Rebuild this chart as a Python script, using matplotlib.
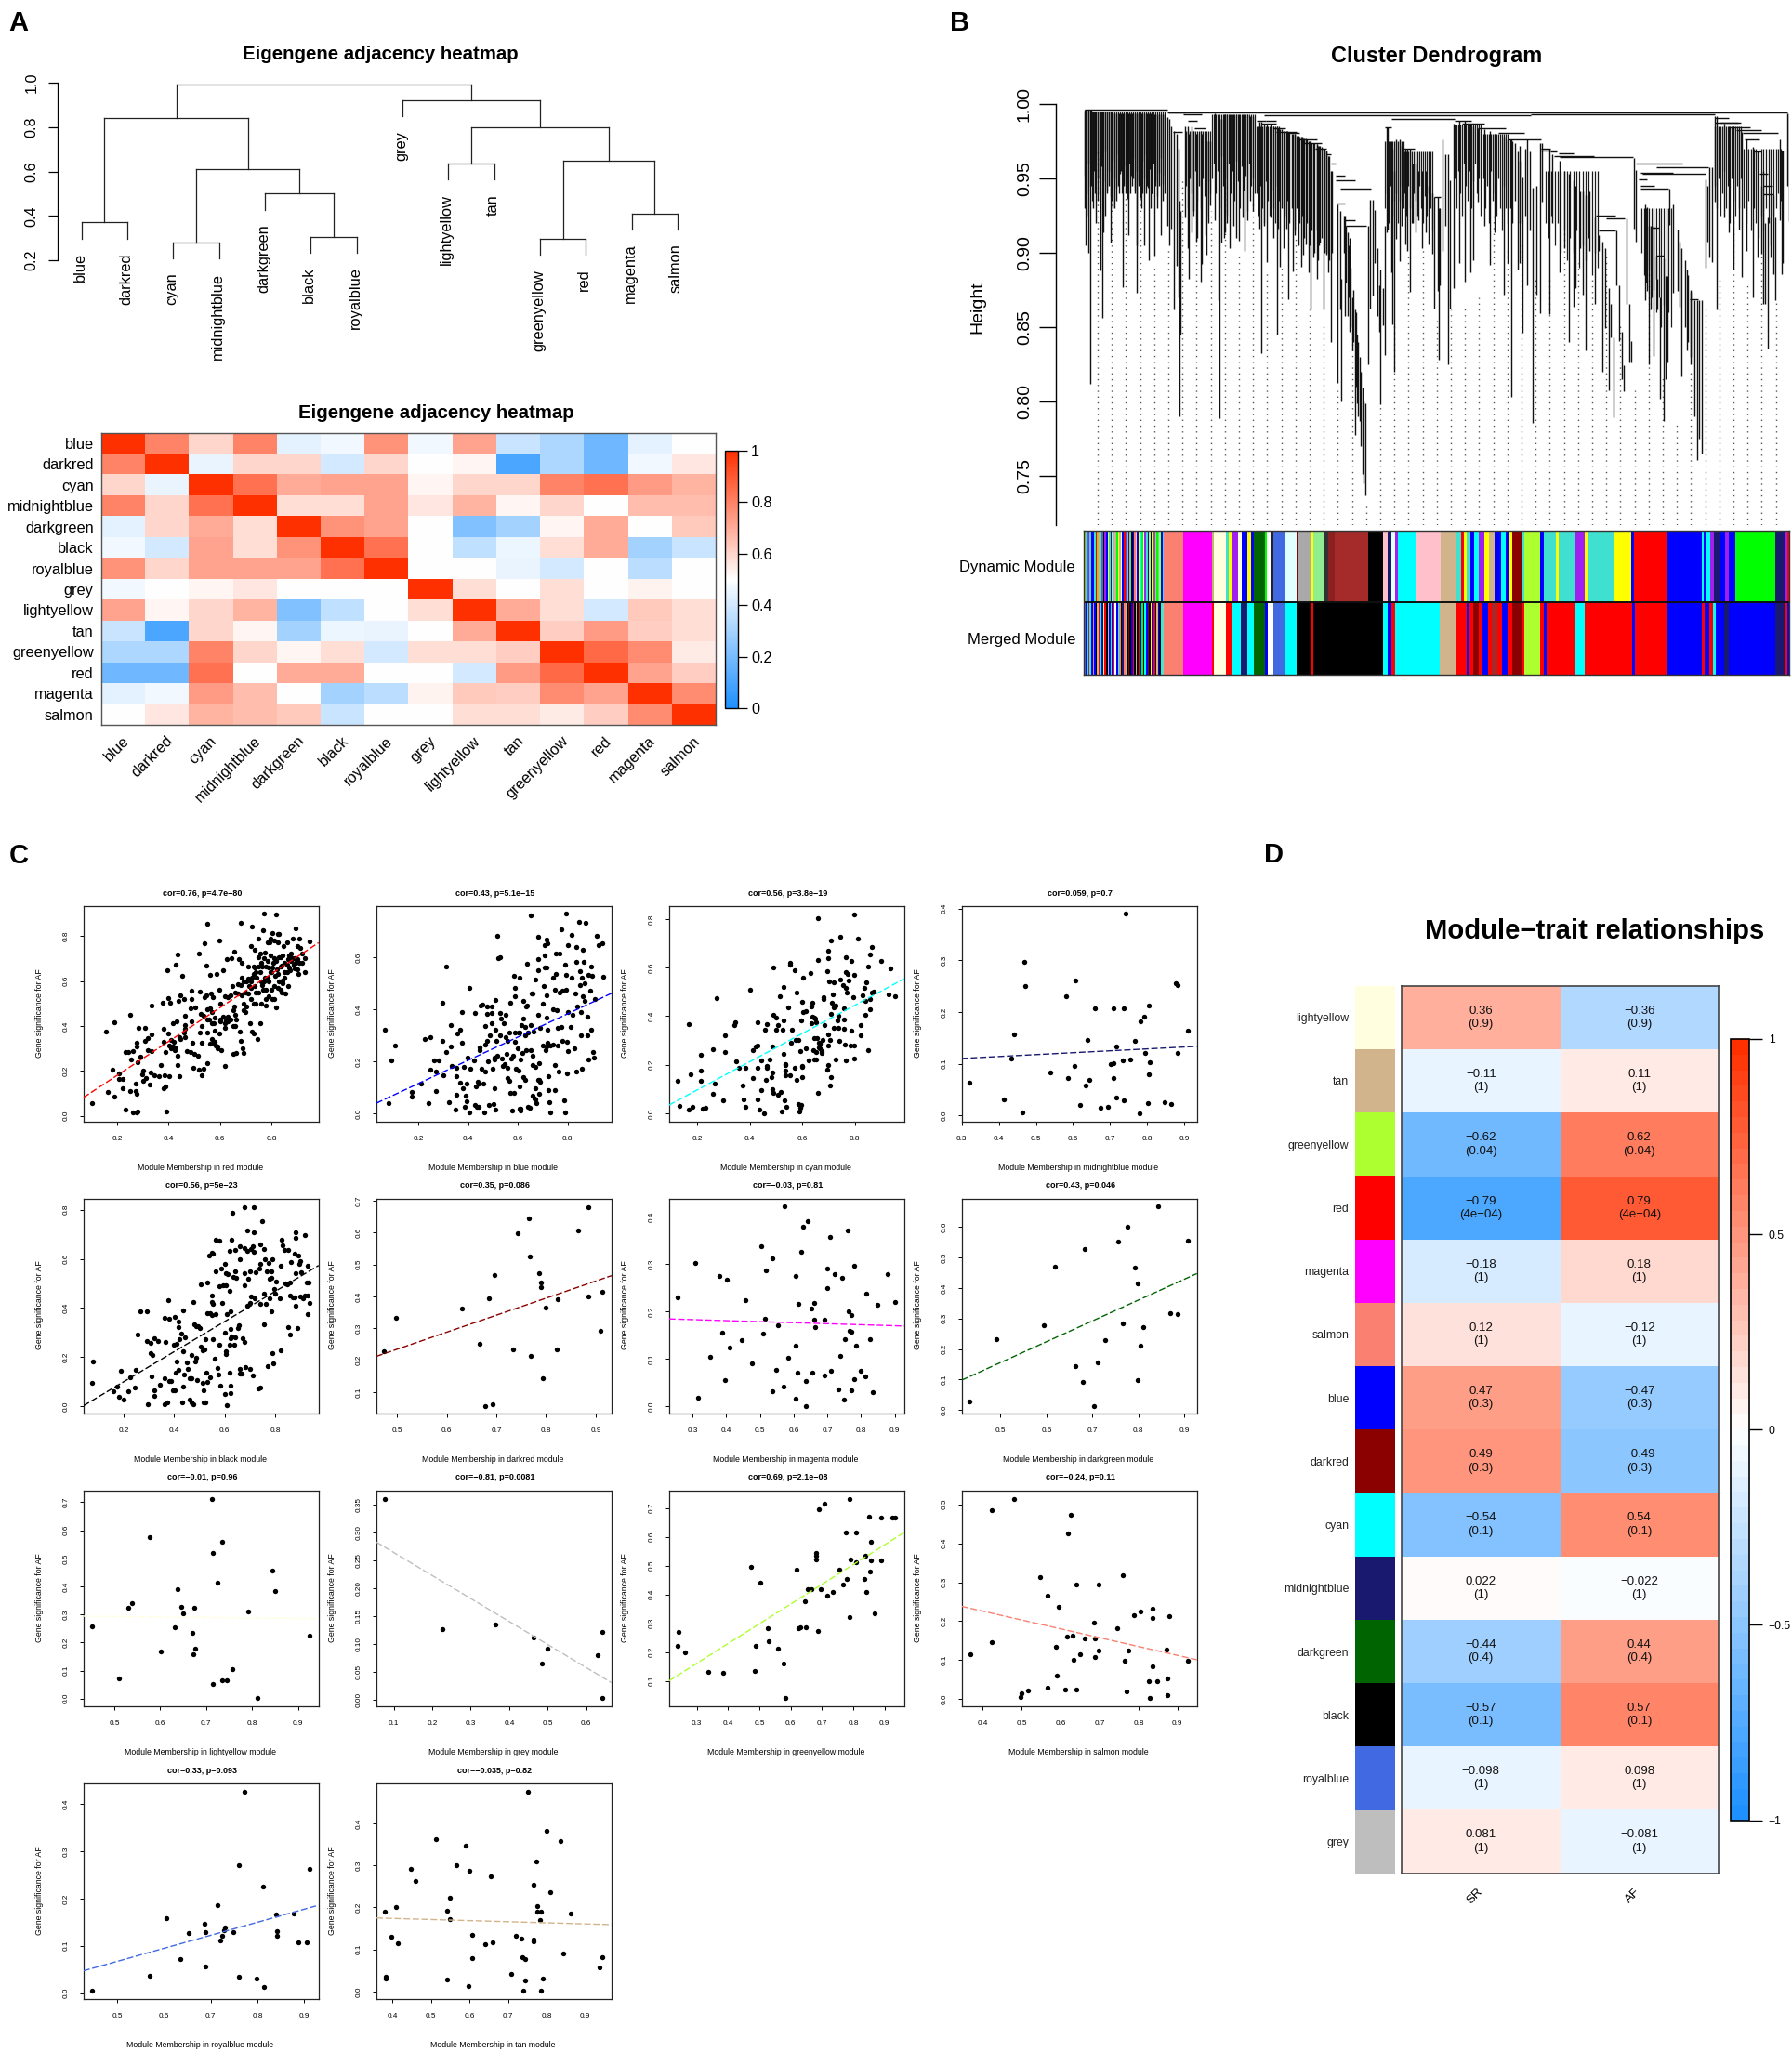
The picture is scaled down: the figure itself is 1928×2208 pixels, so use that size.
import matplotlib
matplotlib.use("Agg")
import matplotlib.pyplot as plt
import numpy as np
from matplotlib.cm import ScalarMappable
from matplotlib.colors import LinearSegmentedColormap, Normalize

plt.rcParams["font.family"] = ["Liberation Sans", "DejaVu Sans"]

WIDTH, HEIGHT = 1928, 2208

# --- panel A data ---
modules = ["blue", "darkred", "cyan", "midnightblue", "darkgreen", "black", "royalblue",
           "grey", "lightyellow", "tan", "greenyellow", "red", "magenta", "salmon"]
# children: negative = leaf -(i + 1), zero or positive = earlier merge row
merge_left = [-1, -3, -6, -5, 1, 0, -9, -11, -13, 7, 6, -8, 5]
merge_right = [-2, -4, -7, 2, 3, 4, -10, -12, -14, 8, 9, 10, 11]
merge_height = [0.37, 0.28, 0.306, 0.50, 0.61, 0.84, 0.635, 0.296, 0.41, 0.65, 0.80, 0.92, 0.99]
leaf_drop = 0.072
dendro_ticks = [0.2, 0.4, 0.6, 0.8, 1.0]

adjacency = [
    [1.00, .80, .60, .80, .44, .47, .76, .47, .72, .38, .32, .18, .44, .50],
    [.80, 1.00, .45, .60, .60, .40, .60, .50, .52, .10, .32, .18, .47, .56],
    [.60, .45, 1.00, .84, .70, .72, .72, .52, .60, .60, .80, .84, .74, .68],
    [.80, .60, .84, 1.00, .58, .58, .72, .56, .68, .52, .60, .50, .66, .66],
    [.44, .60, .70, .58, 1.00, .76, .72, .50, .22, .30, .52, .70, .50, .63],
    [.47, .40, .72, .58, .76, 1.00, .84, .50, .36, .46, .58, .70, .30, .38],
    [.76, .60, .72, .72, .72, .84, 1.00, .50, .50, .45, .40, .50, .35, .50],
    [.47, .50, .52, .56, .50, .50, .50, 1.00, .58, .50, .58, .50, .53, .50],
    [.72, .52, .60, .68, .22, .36, .50, .58, 1.00, .70, .58, .40, .63, .58],
    [.38, .10, .60, .52, .30, .46, .45, .50, .70, 1.00, .62, .74, .62, .58],
    [.32, .32, .80, .60, .52, .58, .40, .58, .58, .62, 1.00, .86, .78, .55],
    [.18, .18, .84, .50, .70, .70, .50, .50, .40, .74, .86, 1.00, .72, .62],
    [.44, .47, .74, .66, .50, .30, .35, .53, .63, .62, .78, .72, 1.00, .78],
    [.50, .56, .68, .66, .63, .38, .50, .50, .58, .58, .55, .62, .78, 1.00],
]

# --- panel B data (gene rank, merge height, lowest height) ---
tree_tips = [
    (2, .996, .930), (6, .996, .905), (10, .996, .925), (14, .996, .900), (20, .996, .812), (25, .996, .945),
    (30, .995, .930), (35, .995, .940), (40, .995, .920), (45, .995, .935), (50, .995, .950), (54, .995, .888),
    (60, .995, .856), (64, .995, .914), (68, .995, .925), (74, .995, .940), (80, .995, .945), (86, .995, .907),
    (90, .995, .935), (94, .994, .930), (100, .994, .930), (105, .994, .935), (110, .994, .945), (115, .994, .940),
    (120, .994, .955), (125, .994, .877), (130, .994, .945), (135, .994, .940), (140, .994, .950), (145, .994, .912),
    (150, .994, .940), (155, .994, .945), (160, .994, .950), (165, .994, .940), (170, .994, .873), (172, .994, .905),
    (178, .994, .945), (185, .994, .930), (190, .994, .940), (194, .994, .905), (200, .994, .940), (205, .994, .945),
    (210, .994, .895), (215, .994, .930), (220, .993, .940), (227, .993, .898), (232, .993, .945), (238, .993, .930),
    (244, .993, .945), (250, .993, .912), (255, .993, .935), (260, .993, .940),
    (270, .991, .918), (277, .990, .905), (282, .985, .916), (292, .982, .862), (300, .980, .891), (307, .970, .870),
    (310, .935, .790), (313, .928, .845),
    (327, .985, .924), (337, .985, .903), (339, .980, .8825), (347, .985, .914), (354, .982, .928), (362, .980, .9075),
    (367, .980, .910), (377, .982, .8805), (382, .980, .8925), (392, .980, .912), (397, .975, .899), (402, .975, .920),
    (407, .975, .932),
    (422, .994, .922), (434, .990, .868), (439, .990, .789), (444, .990, .907), (452, .993, .910), (457, .993, .914),
    (462, .993, .920), (472, .993, .903), (482, .993, .918), (492, .993, .910), (502, .993, .908), (512, .993, .924),
    (519, .993, .901), (527, .993, .922), (537, .992, .935), (547, .992, .928),
    (567, .988, .916), (572, .988, .8325), (582, .987, .918), (590, .987, .894), (602, .986, .924), (612, .985, .910),
    (623, .985, .845), (627, .984, .916), (634, .983, .8908), (645, .982, .903), (654, .982, .916), (661, .981, .869),
    (674, .980, .8875), (682, .980, .912), (692, .979, .905), (702, .978, .8908), (707, .977, .899), (717, .977, .9054),
    (727, .975, .8867), (732, .975, .8617), (742, .974, .897), (752, .973, .8825), (757, .972, .895), (762, .972, .907),
    (774, .970, .8617), (782, .969, .899), (790, .965, .8867), (797, .955, .84),
    (820, .9325, .8127), (827, .928, .8617), (832, .8825, .80), (842, .925, .8575), (852, .9137, .8575), (859, .91, .847),
    (867, .87, .8346), (875, .8617, .7773), (882, .845, .799), (890, .83, .7867), (900, .8096, .7512), (909, .799, .7367),
    (840, .925, .90), (847, .918, .88), (855, .905, .87), (862, .89, .85), (870, .875, .84), (878, .86, .81),
    (886, .84, .79), (894, .82, .77), (903, .80, .745),
    (917, .918, .825), (925, .9356, .8627), (932, .9356, .871), (940, .929, .893), (949, .9033, .8575), (954, .8783, .8471),
    (957, .8887, .798), (967, .876, .8513), (972, .9179, .8315),
    (977, .9846, .9137), (982, .9846, .9158), (992, .975, .8867), (997, .97, .852), (1001, .955, .82), (1009, .976, .9096),
    (1019, .976, .8942), (1027, .972, .918), (1037, .97, .9054), (1045, .97, .9013), (1053, .97, .874), (1062, .96, .92),
    (1072, .96, .9137), (1080, .955, .922), (1092, .955, .9033), (1104, .955, .9137), (1112, .945, .9054), (1124, .94, .8992),
    (1132, .9377, .8627), (1142, .9377, .8742), (1147, .93, .8283), (1150, .93, .8783),
    (1157, .976, .9013), (1167, .966, .9179), (1175, .966, .825), (1182, .949, .8627), (1194, .987, .8763), (1212, .9888, .8929),
    (1230, .9888, .8804), (1247, .987, .8867), (1257, .985, .895), (1272, .984, .9346), (1294, .983, .9179), (1312, .982, .8918),
    (1327, .98, .9137), (1357, .978, .872), (1367, .976, .8929), (1380, .976, .8033), (1400, .968, .8887), (1407, .962, .8929),
    (1415, .951, .846), (1432, .976, .8783), (1448, .944, .7856), (1460, .945, .872), (1474, .974, .8596), (1480, .974, .9346),
    (1376, .976, .93), (1384, .975, .92), (1392, .974, .935), (1408, .972, .92), (1424, .97, .925), (1440, .968, .915),
    (1502, .97, .8585), (1512, .966, .92), (1535, .962, .8867), (1550, .955, .9033), (1565, .953, .8398), (1580, .949, .8638),
    (1587, .945, .8763), (1602, .941, .9033), (1612, .941, .8721), (1620, .939, .8346), (1632, .941, .9013), (1650, .924, .8658),
    (1662, .9117, .9013), (1674, .9075, .82), (1682, .9033, .8492), (1696, .8763, .8075), (1700, .8658, .8429), (1710, .8429, .7894),
    (1718, .9148, .8783), (1727, .8783, .8408), (1738, .8471, .8148), (1744, .8242, .807), (1752, .923, .8658), (1762, .8658, .8263),
    (1767, .8408, .8263),
    (1777, .9637, .916), (1782, .9554, .9075), (1812, .9325, .868), (1819, .9304, .8742), (1824, .9179, .825), (1829, .9179, .8617),
    (1838, .9179, .8304), (1847, .898, .8825), (1852, .8825, .8617), (1859, .87, .802), (1871, .896, .7867), (1877, .8846, .8148),
    (1884, .8846, .8263), (1890, .9429, .919), (1902, .9325, .8731), (1917, .9158, .8742), (1922, .9075, .8638), (1930, .9033, .8169),
    (1940, .895, .85), (1950, .885, .84), (1960, .875, .83), (1970, .868, .79), (1985, .868, .775),
    (1948, .8887, .8346), (1960, .874, .8252), (1979, .8679, .7606), (1995, .8679, .7648), (2006, .9492, .8898), (2012, .945, .9075),
    (2020, .9575, .8971), (2027, .9575, .894),
    (2037, .9919, .9346), (2044, .9919, .8617), (2067, .987, .924), (2082, .985, .9137), (2097, .985, .8887), (2114, .983, .9158),
    (2124, .981, .8835), (2140, .976, .9013), (2160, .971, .87), (2174, .968, .8971), (2187, .945, .8992), (2194, .955, .8658),
    (2200, .92, .8658), (2207, .924, .8356), (2217, .924, .8971), (2227, .939, .8856), (2232, .924, .868), (2247, .976, .9221),
    (2252, .969, .8856), (2257, .969, .8929), (2272, .994, .945), (2276, .994, .921),
    (640, .983, .93), (648, .982, .925), (656, .982, .935), (664, .981, .92), (672, .98, .93), (680, .98, .915), (688, .979, .93),
    (696, .978, .92), (704, .978, .925), (712, .977, .91), (720, .976, .92), (728, .975, .905), (736, .974, .915), (744, .974, .9),
    (752, .973, .915), (760, .972, .905), (768, .971, .91), (776, .97, .9), (784, .968, .9), (792, .965, .895), (800, .955, .9),
]
tree_links = [
    (2, 270, .9965), (270, 2272, .9944), (582, 1442, .9925), (1442, 2037, .9929), (992, 1197, .99),
    (587, 622, .9888), (622, 687, .981), (702, 767, .974), (747, 782, .97), (812, 877, .949), (827, 927, .943),
    (817, 842, .933), (847, 912, .918), (840, 877, .922), (1132, 1152, .9377), (972, 992, .9846), (1032, 1067, .97),
    (287, 317, .9815), (272, 327, .9946), (322, 382, .993), (337, 367, .9888), (357, 392, .9835),
    (1477, 1527, .969), (1517, 1647, .9652), (1537, 1772, .9642), (1652, 1717, .9252), (1687, 1747, .923),
    (1662, 1717, .9148), (1782, 1932, .96), (1847, 2017, .9575), (1797, 1902, .9537), (1802, 2007, .9529),
    (1792, 1817, .9492), (1797, 1842, .945), (1797, 1887, .9429), (1847, 1872, .898), (1957, 1984, .8685),
    (1832, 1857, .9169), (2127, 2242, .9804), (2192, 2227, .9392), (2107, 2187, .9825), (2037, 2122, .9877),
    (557, 587, .9888), (572, 622, .9867), (612, 652, .9835), (662, 697, .9804), (697, 752, .976), (782, 797, .966),
    (797, 812, .96), (812, 842, .952),
    (1197, 1252, .9888), (1222, 1292, .9867), (1272, 1362, .9835), (1337, 1422, .9804), (1372, 1477, .976),
    (1477, 1507, .97), (1507, 1527, .968), (1532, 1582, .9667),
    (2037, 2082, .9908), (2052, 2112, .9877), (2082, 2152, .9846), (2132, 2182, .976), (2162, 2187, .968),
    (2182, 2207, .9533), (2192, 2222, .945),
]
# unresolved branches packed side by side: first rank, rank step, merge height, lowest heights
mass_starts = [2, 330, 415, 558, 972, 1036, 1197, 1290, 2037, 2130, 1490, 1800]
mass_steps = [6, 6, 6, 6, 6, 6, 6, 6, 6, 8, 10, 8]
mass_tops = [.995, .982, .993, .985, .975, .968, .986, .98, .985, .97, .955, .93]
mass_lows = [
    [.952, .94, .96, .945, .935, .955, .965, .95, .94, .958, .948, .968, .942, .955, .938, .962, .95, .944, .966, .953, .94, .958,
     .947, .936, .96, .952, .964, .942, .955, .948, .937, .962, .95, .966, .944, .956, .94, .96, .948, .938, .954, .964, .946, .952],
    [.945, .93, .95, .94, .925, .955, .935, .945, .93, .95, .938, .925, .948, .94],
    [.95, .96, .94, .955, .93, .965, .945, .95, .925, .96, .94, .955, .935, .962, .948, .93, .958, .942, .952, .928, .96, .945, .95, .94],
    [.94, .925, .945, .93, .92, .948, .935, .925, .942, .93, .92, .945, .935],
    [.93, .94, .92, .945, .925, .935, .94, .92, .935, .945, .93],
    [.94, .925, .945, .93, .92, .94, .935, .925, .945, .93, .92, .938, .925, .94, .93, .915],
    [.95, .93, .955, .94, .925, .96, .945, .935, .955, .93, .948, .96, .94, .95, .925],
    [.95, .93, .945, .92, .955, .935, .94, .925, .95, .93, .915, .945, .93, .92],
    [.945, .93, .95, .925, .94, .955, .93, .945, .92, .95, .935, .925, .945, .93, .95],
    [.93, .92, .935, .915, .93, .92, .91, .925, .915, .93, .92, .905, .925, .93, .94, .935],
    [.92, .91, .925, .905, .92, .9, .915, .895, .91, .9, .915, .89, .905, .895, .91, .885, .9, .89],
    [.9, .885, .88, .89, .87, .875, .86, .87, .85, .865, .84, .86, .85],
]
guide_tops = [.97, .9367, .9367, .972, .891, .903, .949, .9096, .928, .945, .899, .9346, .8867,
              .891, .9096, .862, .851, .8075, .847, .73, .799, .851, .899, .903, .8575,
              .8617, .8638, .87, .927, .903, .9054, .8846, .8825, .9137, .893, .8825, .899,
              .8533, .8075, .891, .8158, .7867, .82, .8617, .8825, .924, .8804, .899, .8679, .8617, .92]
height_ticks = [0.75, 0.80, 0.85, 0.90, 0.95, 1.00]

left_dyn_stripes = ["yellowgreen", "turquoise", "slateblue", "purple", "turquoise", "blue", "blue", "turquoise", "red",
                    "yellowgreen", "tan", "turquoise", "slateblue", "black", "purple", "blue", "yellow", "turquoise",
                    "midnightblue", "pink", "turquoise", "tan", "green", "yellow", "tan", "lightcyan", "blue", "red",
                    "purple", "turquoise", "darkred", "turquoise", "black", "blue", "salmon", "pink", "blue", "yellow",
                    "cyan", "green", "lightyellow", "purple", "turquoise", "blue", "greenyellow", "black", "yellow",
                    "slateblue", "tan", "green", "turquoise", "greenyellow", "blue", "turquoise"]
left_mrg_stripes = ["slateblue", "blue", "turquoise", "red", "cyan", "blue", "salmon", "blue", "black", "tan", "red",
                    "cyan", "blue", "yellow", "red", "black", "tan", "blue", "cyan", "blue", "red", "white", "blue",
                    "cyan", "salmon", "black", "midnightblue", "salmon", "tan", "black", "darkred", "black", "blue",
                    "red", "black", "tan", "black", "red", "blue", "green", "black", "cyan", "blue", "darkred", "black",
                    "yellow", "blue", "red", "black", "tan", "blue", "black", "cyan", "tan"]
dyn_stripe_band = (12, 188)
dyn_starts = [188, 230, 293, 298, 325, 331, 337, 352, 360, 372, 380, 386, 410, 415, 423, 429, 453, 479, 485, 512, 517,
              541, 550, 564, 637, 669, 680, 688, 697, 703, 743, 796, 829, 841, 847, 853, 862, 870, 880, 892, 902, 915,
              930, 940, 948, 955, 975, 980, 1016, 1024, 1034, 1050, 1056, 1064, 1094, 1114, 1122, 1135, 1177, 1216,
              1222, 1230, 1293, 1370, 1376, 1382, 1390, 1398, 1412, 1422, 1430, 1444, 1453, 1532, 1552, 1558]
dyn_colors = ["salmon", "magenta", "darkkhaki", "lightyellow", "turquoise", "yellow", "purple", "lightyellow", "blue",
              "yellow", "blue", "darkgreen", "green", "white", "#222222", "royalblue", "lightcyan", "darkred", "darkgrey",
              "yellow", "lightgreen", "#333333", "#8b2020", "brown", "black", "pink", "midnightblue", "lightcyan",
              "purple", "cyan", "pink", "tan", "turquoise", "red", "yellow", "turquoise", "blue", "cyan", "purple",
              "yellow", "tan", "blue", "cyan", "blue", "yellow", "darkred", "turquoise", "greenyellow", "blue", "turquoise",
              "turquoise", "yellow", "turquoise", "turquoise", "purple", "yellow", "turquoise", "turquoise", "yellow", "blue",
              "red", "red", "blue", "cyan", "blue", "cyan", "purple", "midnightblue", "blue", "purple", "blue", "green",
              "green", "midnightblue", "purple", "red"]
mrg_starts = [188, 230, 293, 298, 325, 337, 357, 372, 385, 410, 416, 429, 453, 479, 512, 517, 669, 680, 688, 697, 795,
              829, 853, 860, 868, 880, 888, 900, 910, 922, 932, 944, 955, 975, 980, 1016, 1024, 1030, 1037, 1094, 1114,
              1217, 1224, 1230, 1293, 1370, 1378, 1388, 1395, 1401, 1420, 1430, 1532, 1552, 1558]
mrg_colors = ["salmon", "magenta", "red", "lightyellow", "red", "cyan", "midnightblue", "cyan", "darkgreen", "blue",
              "white", "royalblue", "cyan", "black", "red", "black", "cyan", "blue", "red", "cyan", "tan", "red", "blue",
              "red", "darkred", "red", "blue", "red", "brown", "red", "blue", "red", "darkred", "red", "greenyellow",
              "red", "blue", "red", "red", "cyan", "red", "blue", "red", "red", "blue", "red", "blue", "red", "cyan",
              "blue", "midnightblue", "blue", "midnightblue", "red", "blue"]

# --- panel C data ---
red_points = [
    (.103, .056), (.154, .373), (.164, .106), (.18, .204), (.189, .086), (.19, .417), (.206, .187), (.208, .162), (.22, .162), (.22, .122),
    (.233, .027), (.233, .285), (.242, .284), (.25, .449), (.25, .11), (.253, .251), (.261, .287), (.261, .014), (.271, .11), (.272, .145),
    (.274, .096), (.274, .014), (.28, .019), (.274, .309), (.275, .326), (.277, .238), (.283, .39), (.288, .263), (.296, .186), (.3, .199),
    (.3, .157), (.308, .39), (.308, .334), (.312, .169), (.319, .292), (.319, .346), (.329, .194), (.332, .491), (.333, .363), (.332, .289),
    (.327, .14), (.343, .182), (.363, .174), (.371, .224), (.376, .501), (.379, .123), (.387, .132), (.39, .019), (.379, .331), (.379, .385),
    (.387, .284), (.384, .182), (.395, .646), (.399, .525), (.403, .174), (.406, .503), (.399, .368), (.403, .312), (.41, .339), (.415, .309),
    (.418, .41), (.422, .304), (.425, .292), (.428, .672), (.434, .717), (.434, .267), (.434, .224), (.431, .419), (.439, .511), (.445, .537),
    (.442, .174), (.453, .624), (.447, .343), (.458, .52), (.462, .444), (.462, .402), (.465, .385), (.465, .351), (.472, .289), (.484, .284),
    (.489, .557), (.489, .52), (.484, .478), (.494, .326), (.497, .213), (.5, .275), (.505, .481), (.513, .267), (.516, .204), (.517, .722),
    (.52, .554), (.525, .452), (.528, .326), (.528, .182), (.536, .444), (.536, .208), (.541, .768), (.541, .528), (.547, .668), (.547, .537),
    (.552, .854), (.552, .474), (.552, .233), (.56, .478), (.556, .427), (.56, .626), (.563, .545), (.568, .343), (.572, .528), (.575, .41),
    (.575, .326), (.58, .435), (.583, .314), (.588, .633), (.591, .309), (.596, .781), (.599, .562), (.599, .368), (.604, .292), (.612, .646),
    (.619, .221), (.622, .424), (.626, .697), (.63, .528), (.63, .419), (.638, .427), (.641, .537), (.644, .7), (.649, .576), (.651, .275),
    (.654, .486), (.657, .731), (.662, .28), (.662, .427), (.67, .587), (.672, .697), (.677, .376), (.681, .334), (.682, .857), (.685, .68),
    (.685, .537), (.689, .3), (.69, .28), (.693, .596), (.701, .486), (.709, .545), (.714, .579), (.717, .41), (.72, .756), (.723, .84),
    (.725, .376), (.73, .368), (.73, .663), (.732, .63), (.736, .739), (.736, .579), (.741, .613), (.745, .343), (.748, .79), (.751, .663),
    (.756, .41), (.756, .722), (.764, .663), (.767, .824), (.769, .562), (.772, .9), (.775, .613), (.776, .727), (.78, .52), (.78, .663),
    (.784, .773), (.787, .613), (.792, .773), (.795, .638), (.798, .79), (.802, .815), (.803, .52), (.808, .68), (.811, .781), (.816, .621),
    (.819, .896), (.819, .481), (.824, .807), (.827, .773), (.83, .807), (.83, .705), (.835, .562), (.838, .663), (.842, .714), (.846, .756),
    (.849, .638), (.852, .613), (.855, .545), (.861, .77), (.864, .697), (.867, .579), (.87, .714), (.874, .646), (.877, .722), (.882, .79),
    (.886, .672), (.889, .655), (.896, .832), (.9, .756), (.902, .697), (.905, .63), (.91, .79), (.913, .748), (.918, .68), (.92, .722),
    (.929, .641), (.948, .776), (.748, .705), (.761, .596), (.795, .714), (.819, .689), (.838, .705), (.861, .672), (.877, .689), (.827, .63),
    (.842, .604), (.811, .579), (.78, .562), (.725, .613), (.709, .663), (.685, .613), (.701, .596), (.67, .545), (.55, .43), (.57, .41),
    (.6, .43), (.62, .41), (.64, .43), (.66, .40), (.58, .33), (.56, .32), (.59, .30), (.61, .44), (.65, .47), (.69, .50), (.72, .52),
    (.75, .55), (.74, .50), (.77, .60), (.79, .66), (.81, .70), (.85, .68), (.87, .66), (.89, .70), (.91, .68), (.93, .70), (.79, .53),
    (.83, .60), (.8, .64), (.76, .68), (.74, .64), (.71, .61), (.68, .58), (.66, .55), (.62, .53), (.6, .50), (.57, .46), (.53, .40),
    (.72, .6), (.735, .66), (.755, .64), (.77, .7), (.785, .69), (.805, .66), (.82, .65), (.84, .67), (.86, .64), (.88, .7),
    (.895, .68), (.9, .65), (.845, .59), (.825, .57), (.8, .56), (.79, .6), (.765, .58), (.74, .55), (.72, .57), (.7, .55),
    (.69, .47), (.66, .45), (.63, .44), (.6, .42), (.58, .38), (.55, .37), (.52, .37), (.49, .42), (.46, .37), (.44, .35),
    (.42, .33), (.41, .3), (.7, .46), (.73, .5), (.76, .5), (.78, .49), (.81, .52), (.84, .55), (.65, .4), (.62, .39),
]
blue_points = [
    (.063, .32), (.08, .038), (.091, .202), (.104, .261), (.174, .083), (.174, .063), (.211, .114), (.226, .287), (.241, .039), (.247, .166),
    (.247, .294), (.262, .204), (.27, .16), (.27, .084), (.283, .204), (.296, .28), (.296, .424), (.301, .146), (.311, .236), (.311, .566),
    (.322, .042), (.33, .341), (.33, .258), (.333, .181), (.35, .013), (.351, .141), (.351, .071), (.351, .176), (.356, .306), (.366, .322),
    (.366, .119), (.374, .389), (.376, .272), (.377, .098), (.382, .178), (.385, .025), (.39, .066), (.394, .047), (.395, .114), (.398, .213),
    (.406, .481), (.406, .004), (.423, .202), (.426, .386), (.428, .033), (.431, .105), (.434, .025), (.442, .115), (.444, .025), (.446, .243),
    (.446, .252), (.45, .415), (.457, .418), (.455, .173), (.462, .115), (.467, .336), (.468, .159), (.465, .004), (.47, .265), (.475, .278),
    (.476, .411), (.476, .382), (.485, .033), (.489, .301), (.496, .345), (.496, .386), (.496, .411), (.503, .035), (.504, .207), (.506, .214),
    (.507, .095), (.509, .435), (.509, .322), (.517, .684), (.511, .015), (.515, .28), (.517, .221), (.52, .596), (.527, .6), (.528, .386),
    (.532, .363), (.537, .211), (.54, .182), (.545, .348), (.548, .189), (.55, .294), (.552, .379), (.555, .229), (.558, .176), (.559, .134),
    (.564, .31), (.566, .124), (.569, .077), (.571, .424), (.572, .211), (.576, .01), (.585, .079), (.585, .529), (.589, .483), (.589, .31),
    (.589, .451), (.589, .275), (.593, .17), (.602, .309), (.603, .163), (.607, .523), (.605, .102), (.605, .016), (.608, .309), (.609, .01),
    (.611, .208), (.611, .019), (.616, .338), (.618, .233), (.621, .432), (.621, .363), (.628, .331), (.63, .127), (.634, .411), (.637, .575),
    (.634, .243), (.637, .415), (.639, .025), (.642, .309), (.647, .022), (.652, .76), (.652, .243), (.655, .462), (.659, .462), (.659, .068),
    (.659, .185), (.663, .316), (.667, .057), (.672, .054), (.672, .513), (.672, .098), (.675, .039), (.68, .377), (.683, .13), (.683, .68),
    (.683, .549), (.683, .593), (.685, .192), (.686, .127), (.686, .076), (.688, .328), (.704, .488), (.706, .648), (.707, .607), (.707, .561),
    (.715, .668), (.72, .654), (.714, .561), (.717, .454), (.714, .367), (.71, .243), (.717, .258), (.724, .141), (.724, .09), (.727, .042),
    (.729, .003), (.72, .272), (.732, .261), (.74, .265), (.748, .09), (.748, .185), (.753, .615), (.751, .537), (.748, .476), (.756, .396),
    (.764, .159), (.761, .261), (.769, .615), (.769, .465), (.776, .709), (.776, .331), (.787, .05), (.789, .004), (.789, .571), (.792, .534),
    (.794, .767), (.795, .476), (.797, .275), (.797, .153), (.8, .648), (.813, .333), (.815, .687), (.818, .52), (.828, .25), (.832, .462),
    (.836, .639), (.836, .581), (.834, .159), (.846, .738), (.849, .546), (.849, .494), (.854, .301), (.854, .389), (.857, .52), (.862, .629),
    (.859, .17), (.863, .581), (.87, .432), (.873, .731), (.88, .301), (.88, .371), (.883, .534), (.883, .207), (.894, .566), (.896, .323),
    (.902, .236), (.906, .214), (.911, .44), (.919, .684), (.924, .648), (.94, .654), (.943, .526),
    (.6, .25), (.63, .3), (.65, .34), (.67, .18), (.69, .12), (.7, .26), (.72, .32), (.74, .4), (.76, .33), (.78, .28),
    (.8, .24), (.82, .38), (.84, .41), (.86, .45), (.87, .5), (.89, .47), (.9, .53), (.78, .47), (.8, .39), (.74, .52),
    (.7, .42), (.66, .22), (.62, .14), (.58, .22), (.56, .28), (.53, .3), (.5, .17), (.48, .2), (.44, .12), (.41, .17),
]
cyan_points = [
    (.125, .134), (.131, .03), (.167, .017), (.166, .367), (.176, .162), (.182, .027), (.212, .24), (.215, .134), (.215, .176), (.222, .019),
    (.233, .023), (.26, .264), (.26, .08), (.267, .122), (.272, .474), (.299, .053), (.304, .32), (.304, .251), (.342, .363), (.343, .373),
    (.348, .215), (.357, .189), (.373, .114), (.378, .059), (.382, .189), (.384, .025), (.401, .509), (.412, .145), (.412, .26), (.421, .276),
    (.428, .058), (.43, .187), (.431, .281), (.43, .374), (.437, .014), (.442, .094), (.443, .217), (.454, 0), (.458, .345), (.464, .368),
    (.461, .137), (.464, .187), (.466, .195), (.475, .222), (.481, .15), (.485, .101), (.487, .167), (.487, .275), (.489, .083), (.488, .599),
    (.491, .406), (.5, .393), (.501, .345), (.506, .075), (.509, .362), (.515, .482), (.519, .089), (.521, .008), (.524, .345), (.527, .521),
    (.527, .382), (.528, .245), (.533, .055), (.534, .198), (.536, .203), (.536, .176), (.536, .158), (.54, .025), (.546, .437), (.552, .618),
    (.552, .612), (.552, .158), (.557, .292), (.56, .345), (.572, .187), (.572, .59), (.576, .301), (.578, .498), (.579, .137), (.584, .303),
    (.584, .039), (.587, .006), (.591, .257), (.594, .023), (.597, .034), (.597, .382), (.603, .557), (.598, .459), (.601, .195), (.601, .192),
    (.6, .148), (.603, .417), (.612, .421), (.613, .267), (.625, .217), (.63, .577), (.633, .438), (.637, .456), (.633, .37), (.64, .396),
    (.645, .395), (.649, .392), (.646, .31), (.642, .26), (.644, .222), (.652, .223), (.654, .254), (.657, .31), (.652, .373), (.66, .083),
    (.661, .633), (.66, .802), (.664, .292), (.664, .273), (.668, .287), (.667, .268), (.672, .256), (.673, .25), (.678, .304), (.682, .477),
    (.682, .47), (.686, .365), (.694, .585), (.694, .178), (.697, .198), (.7, .638), (.7, .668), (.7, .325), (.7, .281), (.702, .544),
    (.704, .301), (.706, .114), (.709, .15), (.709, .711), (.709, .409), (.713, .454), (.716, .491), (.719, .538), (.721, .351), (.719, .435),
    (.727, .443), (.727, .22), (.734, .382), (.736, .353), (.739, .401), (.742, .298), (.743, .727), (.743, .551), (.754, .529), (.757, .432),
    (.757, .388), (.757, .349), (.764, .218), (.766, .644), (.764, .583), (.763, .284), (.767, .515), (.769, .499), (.772, .574), (.778, .546),
    (.782, .279), (.787, .629), (.788, .342), (.793, .477), (.796, .819), (.796, .571), (.799, .279), (.799, .225), (.813, .719), (.821, .364),
    (.824, .32), (.831, .485), (.836, .515), (.84, .462), (.84, .406), (.843, .541), (.852, .604), (.852, .26), (.857, .429), (.857, .47),
    (.857, .655), (.866, .683), (.866, .499), (.873, .501), (.9, .626), (.927, .49), (.937, .597), (.954, .482),
]
midnightblue_points = [
    (.322, .064), (.413, .032), (.434, .111), (.442, .158), (.464, .007), (.469, .297), (.47, .25), (.538, .084), (.582, .231), (.587, .072),
    (.603, .096), (.606, .261), (.62, .021), (.633, .059), (.64, .147), (.645, .07), (.658, .208), (.675, .015), (.694, .017), (.702, .10),
    (.708, .101), (.708, .073), (.709, .207), (.716, .133), (.716, .035), (.734, .106), (.736, .208), (.738, .03), (.743, .39), (.754, .109),
    (.768, .144), (.779, .004), (.783, .183), (.793, .192), (.794, .121), (.803, .025), (.805, .212), (.805, .08), (.807, .103), (.847, .026),
    (.864, .022), (.877, .256), (.881, .253), (.881, .122), (.909, .164),
]
black_points = [
    (.075, .094), (.078, .182), (.158, .06), (.174, .079), (.181, .037), (.189, .144), (.2, .025), (.216, .062), (.224, .116), (.245, .076),
    (.248, .147), (.253, .29), (.267, .388), (.293, .386), (.291, .267), (.296, .006), (.306, .258), (.306, .215), (.314, .21), (.31, .12),
    (.32, .278), (.322, .063), (.322, .042), (.336, .267), (.342, .088), (.36, .113), (.365, .261), (.36, .008), (.363, .36), (.374, .014),
    (.378, .431), (.381, .357), (.379, .103), (.389, .102), (.395, .065), (.402, .065), (.402, .363), (.406, .137), (.41, .255), (.41, .181),
    (.418, .344), (.416, .147), (.421, .272), (.418, .323), (.429, .295), (.434, .39), (.43, .014), (.435, .222), (.442, .281), (.437, .079),
    (.45, .179), (.454, .151), (.461, .113), (.469, .113), (.461, .026), (.469, .014), (.477, .009), (.475, .426), (.478, .335), (.486, .324),
    (.488, .196), (.485, .182), (.49, .107), (.494, .324), (.502, .32), (.504, .497), (.512, .094), (.507, .242), (.512, .229), (.517, .017),
    (.523, .014), (.518, .065), (.522, .272), (.526, .137), (.533, .503), (.531, .1), (.533, .38), (.541, .38), (.544, .117), (.539, .615),
    (.549, .625), (.554, .621), (.549, .451), (.549, .423), (.554, .415), (.554, .272), (.56, .193), (.563, .55), (.566, .676), (.566, .375),
    (.57, .156), (.574, .128), (.578, .673), (.582, .082), (.586, .559), (.592, .42), (.594, .491), (.6, .051), (.605, .491), (.605, .542),
    (.606, .213), (.606, .222), (.608, .374), (.613, .539), (.608, .002), (.618, .136), (.621, .632), (.622, .082), (.626, .678), (.624, .052),
    (.624, .385), (.624, .314), (.624, .276), (.627, .284), (.634, .527), (.632, .788), (.637, .249), (.643, .638), (.645, .524), (.653, .32),
    (.656, .33), (.661, .65), (.659, .131), (.669, .134), (.67, .276), (.677, .644), (.677, .812), (.682, .158), (.68, .493), (.688, .408),
    (.691, .632), (.69, .717), (.693, .52), (.701, .15), (.704, .446), (.706, .639), (.714, .811), (.714, .629), (.712, .65), (.717, .709),
    (.712, .125), (.723, .547), (.733, .071), (.738, .562), (.741, .076), (.742, .658), (.75, .754), (.757, .639), (.757, .459), (.741, .415),
    (.757, .334), (.762, .415), (.768, .55), (.771, .161), (.773, .585), (.778, .52), (.784, .55), (.784, .524), (.784, .385), (.792, .174),
    (.79, .6), (.805, .508), (.797, .477), (.79, .215), (.821, .57), (.826, .678), (.829, .655), (.837, .636), (.853, .638), (.85, .497),
    (.851, .323), (.858, .292), (.824, .227), (.861, .503), (.864, .588), (.869, .442), (.882, .707), (.882, .684), (.877, .622), (.878, .443),
    (.88, .409), (.888, .32), (.894, .613), (.896, .578), (.9, .446), (.904, .544), (.912, .44), (.92, .698), (.925, .503), (.93, .452),
    (.933, .503), (.93, .57), (.928, .375), (.936, .42),
    (.58, .25), (.6, .3), (.62, .25), (.64, .28), (.66, .15), (.68, .26), (.7, .42), (.72, .44), (.74, .58), (.76, .6),
    (.78, .44), (.8, .46), (.82, .44), (.84, .5), (.86, .45), (.88, .54), (.9, .59), (.92, .45), (.7, .55), (.68, .54),
    (.66, .6), (.64, .55), (.62, .47), (.6, .58), (.58, .49), (.55, .37), (.52, .23), (.47, .21), (.44, .13), (.4, .25),
]
darkred_points = [
    (.498, .332), (.474, .228), (.63, .363), (.667, .252), (.677, .057), (.692, .062), (.685, .393), (.696, .467), (.733, .233), (.743, .599),
    (.766, .644), (.768, .524), (.77, .213), (.786, .474), (.789, .443), (.79, .428), (.794, .144), (.799, .364), (.822, .235), (.823, .392),
    (.864, .606), (.886, .681), (.885, .40), (.909, .291), (.914, .415),
]
magenta_points = [
    (.256, .23), (.308, .302), (.316, .017), (.351, .103), (.38, .275), (.387, .155), (.397, .055), (.401, .266), (.41, .123), (.447, .14),
    (.458, .223), (.477, .09), (.503, .338), (.51, .153), (.515, .185), (.517, .286), (.536, .032), (.536, .311), (.547, .077), (.552, .17),
    (.571, .042), (.572, .421), (.585, .102), (.605, .127), (.606, .016), (.606, .274), (.61, .07), (.615, .216), (.621, .326), (.628, .379),
    (.637, .053), (.642, .391), (.652, .206), (.655, .07), (.662, .218), (.662, .183), (.664, .167), (.635, .001), (.69, .182), (.692, .064),
    (.699, .249), (.699, .29), (.708, .356), (.71, .074), (.723, .278), (.733, .036), (.737, .105), (.744, .27), (.748, .013), (.751, .142),
    (.759, .37), (.763, .2), (.765, .158), (.77, .193), (.77, .034), (.771, .156), (.78, .296), (.78, .057), (.784, .128), (.8, .074),
    (.813, .063), (.815, .238), (.826, .142), (.835, .03), (.848, .214), (.88, .279), (.9, .219),
]
darkgreen_points = [
    (.433, .029), (.491, .232), (.595, .277), (.619, .471), (.662, .143), (.679, .093), (.684, .528), (.704, .014), (.712, .155), (.727, .23),
    (.755, .553), (.765, .283), (.777, .599), (.793, .468), (.799, .416), (.799, .098), (.805, .21), (.81, .272), (.842, .666), (.868, .316),
    (.885, .313), (.908, .554),
]
lightyellow_points = [
    (.452, .256), (.511, .072), (.531, .324), (.539, .34), (.578, .576), (.601, .167), (.632, .253), (.637, .39), (.646, .328), (.65, .304),
    (.671, .234), (.672, .157), (.675, .323), (.676, .178), (.713, .711), (.715, .52), (.715, .053), (.724, .413), (.734, .064), (.735, .558),
    (.746, .067), (.758, .104), (.792, .312), (.811, .001), (.845, .456), (.851, .384), (.925, .224),
]
grey_points = [(.076, .36), (.227, .127), (.364, .134), (.463, .112), (.484, .065), (.5, .091), (.63, .079), (.643, .121), (.643, .002)]
greenyellow_points = [
    (.239, .222), (.241, .27), (.261, .198), (.335, .13), (.383, .128), (.472, .495), (.484, .135), (.489, .22), (.502, .44), (.527, .284),
    (.529, .238), (.559, .212), (.576, .161), (.582, .041), (.618, .487), (.625, .284), (.632, .287), (.65, .287), (.646, .376), (.655, .417),
    (.666, .417), (.68, .543), (.68, .535), (.68, .52), (.687, .273), (.691, .696), (.697, .419), (.707, .716), (.716, .396), (.734, .409),
    (.756, .485), (.767, .433), (.775, .616), (.78, .453), (.789, .731), (.79, .522), (.789, .322), (.809, .511), (.81, .616), (.836, .452),
    (.84, .535), (.841, .41), (.851, .67), (.856, .581), (.856, .519), (.855, .48), (.868, .334), (.89, .668), (.89, .518), (.924, .665),
    (.933, .668),
]
salmon_points = [
    (.367, .116), (.423, .485), (.423, .147), (.48, .514), (.498, .006), (.5, .014), (.516, .021), (.546, .314), (.567, .265), (.567, .03),
    (.588, .134), (.59, .06), (.594, .236), (.611, .025), (.616, .16), (.619, .426), (.625, .474), (.63, .163), (.634, .1), (.639, .025),
    (.641, .295), (.649, .114), (.661, .156), (.685, .197), (.687, .107), (.689, .155), (.697, .293), (.697, .124), (.745, .183), (.759, .318),
    (.764, .099), (.769, .02), (.774, .125), (.789, .216), (.806, .225), (.827, .046), (.828, .003), (.835, .231), (.835, .207), (.835, .085),
    (.847, .045), (.873, .126), (.875, .053), (.875, .011), (.879, .214), (.927, .098),
]
royalblue_points = [
    (.446, .004), (.569, .037), (.604, .159), (.635, .071), (.653, .127), (.686, .147), (.688, .129), (.689, .057), (.714, .187), (.72, .112),
    (.725, .122), (.728, .133), (.73, .139), (.749, .128), (.76, .035), (.761, .27), (.772, .427), (.799, .031), (.811, .225), (.814, .013),
    (.839, .167), (.841, .13), (.842, .121), (.878, .169), (.887, .107), (.906, .108), (.912, .263),
]
tan_points = [
    (.38, .189), (.384, .035), (.384, .03), (.398, .131), (.409, .201), (.414, .115), (.447, .291), (.459, .263), (.514, .363), (.542, .028),
    (.543, .193), (.549, .224), (.549, .173), (.565, .3), (.589, .346), (.598, .013), (.6, .288), (.606, .135), (.606, .079), (.64, .113),
    (.656, .273), (.659, .117), (.708, .042), (.721, .132), (.735, .126), (.738, .081), (.739, .003), (.745, .077), (.743, .027), (.751, .476),
    (.766, .254), (.767, .124), (.767, .119), (.772, .309), (.776, .203), (.776, .189), (.785, .191), (.783, .171), (.786, .001), (.791, .03),
    (.799, .383), (.81, .236), (.835, .357), (.843, .09), (.862, .186), (.936, .057), (.945, .082),
]

scatter_modules = ["red", "blue", "cyan", "midnightblue", "black", "darkred", "magenta", "darkgreen",
                   "lightyellow", "grey", "greenyellow", "salmon", "royalblue", "tan"]
scatter_points = [red_points, blue_points, cyan_points, midnightblue_points, black_points, darkred_points,
                  magenta_points, darkgreen_points, lightyellow_points, grey_points, greenyellow_points,
                  salmon_points, royalblue_points, tan_points]
scatter_titles = ["cor=0.76, p=4.7e\u221280", "cor=0.43, p=5.1e\u221215", "cor=0.56, p=3.8e\u221219", "cor=0.059, p=0.7",
                  "cor=0.56, p=5e\u221223", "cor=0.35, p=0.086", "cor=\u22120.03, p=0.81", "cor=0.43, p=0.046",
                  "cor=\u22120.01, p=0.96", "cor=\u22120.81, p=0.0081", "cor=0.69, p=2.1e\u221208", "cor=\u22120.24, p=0.11",
                  "cor=0.33, p=0.093", "cor=\u22120.035, p=0.82"]
scatter_xlim = [(.068, .984), (.031, .977), (.0925, .988), (.30, .934), (.04, .973), (.4585, .932), (.23, .928),
                (.4156, .927), (.433, .945), (.055, .666), (.211, .963), (.3456, .95), (.4274, .931), (.359, .968)]
scatter_ylim = [(-.025, .933), (-.031, .797), (-.033, .853), (-.011, .405), (-.031, .846), (.032, .707), (-.016, .438),
                (-.012, .693), (-.026, .741), (-.0117, .375), (.013, .76), (-.0175, .535), (-.012, .444), (-.017, .495)]
scatter_xticks = [["0.2", "0.4", "0.6", "0.8"], ["0.2", "0.4", "0.6", "0.8"], ["0.2", "0.4", "0.6", "0.8"],
                  ["0.3", "0.4", "0.5", "0.6", "0.7", "0.8", "0.9"], ["0.2", "0.4", "0.6", "0.8"],
                  ["0.5", "0.6", "0.7", "0.8", "0.9"], ["0.3", "0.4", "0.5", "0.6", "0.7", "0.8", "0.9"],
                  ["0.5", "0.6", "0.7", "0.8", "0.9"], ["0.5", "0.6", "0.7", "0.8", "0.9"],
                  ["0.1", "0.2", "0.3", "0.4", "0.5", "0.6"], ["0.3", "0.4", "0.5", "0.6", "0.7", "0.8", "0.9"],
                  ["0.4", "0.5", "0.6", "0.7", "0.8", "0.9"], ["0.5", "0.6", "0.7", "0.8", "0.9"],
                  ["0.4", "0.5", "0.6", "0.7", "0.8", "0.9"]]
scatter_yticks = [["0.0", "0.2", "0.4", "0.6", "0.8"], ["0.0", "0.2", "0.4", "0.6"], ["0.0", "0.2", "0.4", "0.6", "0.8"],
                  ["0.0", "0.1", "0.2", "0.3", "0.4"], ["0.0", "0.2", "0.4", "0.6", "0.8"],
                  ["0.1", "0.2", "0.3", "0.4", "0.5", "0.6", "0.7"], ["0.0", "0.1", "0.2", "0.3", "0.4"],
                  ["0.0", "0.1", "0.2", "0.3", "0.4", "0.5", "0.6"], ["0.0", "0.1", "0.2", "0.3", "0.4", "0.5", "0.6", "0.7"],
                  ["0.00", "0.05", "0.10", "0.15", "0.20", "0.25", "0.30", "0.35"],
                  ["0.1", "0.2", "0.3", "0.4", "0.5", "0.6", "0.7"], ["0.0", "0.1", "0.2", "0.3", "0.4", "0.5"],
                  ["0.0", "0.1", "0.2", "0.3", "0.4"], ["0.0", "0.1", "0.2", "0.3", "0.4"]]
# fitted line heights at the left and right edge of each box
line_left = [.081, .039, .034, .1106, .0015, .212, .184, .098, .294, .2825, .10, .238, .047, .175]
line_right = [.77, .4616, .554, .134, .573, .465, .169, .447, .285, .03, .615, .101, .186, .159]

# --- panel D data ---
trait_rows = ["lightyellow", "tan", "greenyellow", "red", "magenta", "salmon", "blue", "darkred",
              "cyan", "midnightblue", "darkgreen", "black", "royalblue", "grey"]
trait_names = ["SR", "AF"]
sr_corr = [.36, -.11, -.62, -.79, -.18, .12, .47, .49, -.54, .022, -.44, -.57, -.098, .081]
af_corr = [-.36, .11, .62, .79, .18, -.12, -.47, -.49, .54, -.022, .44, .57, .098, -.081]
p_labels = ["0.9", "1", "0.04", "4e\u221204", "1", "1", "0.3", "0.3", "0.1", "1", "0.4", "0.1", "1", "1"]

r_colors = {"grey": "#BEBEBE", "darkgrey": "#A9A9A9", "green": "#00FF00", "purple": "#A020F0", "brown": "#A52A2A",
            "pink": "#FFC0CB", "lightgreen": "#90EE90", "lightcyan": "#E0FFFF", "turquoise": "#40E0D0"}

blue_white_red = LinearSegmentedColormap.from_list("bwr_r", ["#1E90FF", "#FFFFFF", "#FF3000"])
stepped_bwr = LinearSegmentedColormap.from_list("bwr_step", ["#1E90FF", "#FFFFFF", "#FF3000"], N=50)

fig = plt.figure(figsize=(WIDTH / 100, HEIGHT / 100), dpi=100)


def px_axes(left, top, right, bottom, **kwargs):
    return fig.add_axes([left / WIDTH, 1 - bottom / HEIGHT, (right - left) / WIDTH, (bottom - top) / HEIGHT], **kwargs)


def px_text(x, y, s, **kwargs):
    kwargs.setdefault("ha", "center")
    kwargs.setdefault("va", "center")
    return fig.text(x / WIDTH, 1 - y / HEIGHT, s, **kwargs)


def r_color(name):
    return r_colors.get(name, name)


for letter, lx, ly in [("A", 20, 25), ("B", 1033, 25), ("C", 20, 921), ("D", 1370, 920)]:
    px_text(lx, ly, letter, fontsize=21, fontweight="bold")

# ---------- A: eigengene dendrogram ----------
px_text(409, 59, "Eigengene adjacency heatmap", fontsize=14.7, fontweight="bold")
ax = px_axes(62, 89, 760, 280)
ax.set_xlim(-0.523, 13.63)
ax.set_ylim(0.2, 1.0)
ax.patch.set_alpha(0)
for side in ["top", "right", "bottom"]:
    ax.spines[side].set_visible(False)
ax.spines["left"].set_linewidth(0.9)
ax.set_xticks([])
ax.set_yticks(dendro_ticks, [f"{t:.1f}" for t in dendro_ticks], rotation=90, va="center", fontsize=11.6)
ax.tick_params(axis="y", length=7.5, width=0.9, pad=7)

node_x = {}
node_h = {}


def child_xy(code):
    if code < 0:
        leaf = -code - 1
        return leaf, None
    return node_x[code], node_h[code]


for row, (a, b, h) in enumerate(zip(merge_left, merge_right, merge_height)):
    xa, ha = child_xy(a)
    xb, hb = child_xy(b)
    for x_child, h_child in [(xa, ha), (xb, hb)]:
        if h_child is None:
            ax.plot([x_child, x_child], [h, h - leaf_drop], color="#222222", lw=0.9)
            ax.text(x_child - 0.03, h - leaf_drop - 0.065, modules[int(x_child)], rotation=90,
                    ha="center", va="top", fontsize=11.8, clip_on=False)
        else:
            ax.plot([x_child, x_child], [h, h_child], color="#222222", lw=0.9)
    ax.plot([xa, xb], [h, h], color="#222222", lw=0.9)
    node_x[row] = (xa + xb) / 2
    node_h[row] = h

# ---------- A: adjacency heatmap ----------
px_text(469, 445, "Eigengene adjacency heatmap", fontsize=14.7, fontweight="bold")
ax = px_axes(109, 465.5, 770, 780)
ax.pcolormesh(np.array(adjacency), cmap=blue_white_red, vmin=0, vmax=1)
ax.set_xlim(0, 14)
ax.set_ylim(14, 0)
ax.set_yticks(np.arange(14) + 0.5, modules, fontsize=11.8)
ax.set_xticks(np.arange(14) + 0.5)
ax.set_xticklabels([])
ax.tick_params(length=0, pad=6)
for i, name in enumerate(modules):
    ax.annotate(name, (i + 0.5, 14), xytext=(-1, -7), textcoords="offset points", rotation=45,
                rotation_mode="anchor", ha="right", va="top", fontsize=11.8, annotation_clip=False)
for spine in ax.spines.values():
    spine.set_color("#555555")
    spine.set_linewidth(1)

cax = px_axes(780, 485, 794, 762)
bar = fig.colorbar(ScalarMappable(Normalize(0, 1), blue_white_red), cax=cax)
bar.set_ticks([0, .2, .4, .6, .8, 1], labels=["0", "0.2", "0.4", "0.6", "0.8", "1"], fontsize=11.6)
cax.tick_params(length=7, width=0.9, pad=3)
bar.outline.set_linewidth(1)

# ---------- B: gene dendrogram ----------
px_text(1546, 60.5, "Cluster Dendrogram", fontsize=16.9, fontweight="bold")
px_text(1052, 331, "Height", rotation=90, fontsize=14)
ax = px_axes(1166, 112, 1925, 565)
ax.set_xlim(0, 2277)
ax.set_ylim(1.00 - (565 - 112) / 1600, 1.00)
ax.patch.set_alpha(0)
for side in ax.spines:
    ax.spines[side].set_visible(False)
ax.set_xticks([])
ax.set_yticks([])

axis_ax = px_axes(1136, 112, 1166, 565)
axis_ax.set_ylim(ax.get_ylim())
axis_ax.patch.set_alpha(0)
for side in ["top", "right", "bottom"]:
    axis_ax.spines[side].set_visible(False)
axis_ax.spines["left"].set_linewidth(1.0)
axis_ax.set_xticks([])
axis_ax.set_yticks(height_ticks, [f"{t:.2f}" for t in height_ticks], rotation=90, va="center", fontsize=14)
axis_ax.tick_params(axis="y", length=13, width=1.0, pad=5)

guide_ranks = np.arange(len(guide_tops)) * 45.6 + 45
ax.vlines(guide_ranks, ax.get_ylim()[0], guide_tops, color="#555555", lw=1.0, linestyles=(0, (1, 3.5)))
for start, step, top, lows in zip(mass_starts, mass_steps, mass_tops, mass_lows):
    ax.vlines(start + step * np.arange(len(lows)), lows, top, color="#1a1a1a", lw=0.9)
tip_x = [t[0] for t in tree_tips]
tip_top = [t[1] for t in tree_tips]
tip_low = [t[2] for t in tree_tips]
ax.vlines(tip_x, tip_low, tip_top, color="#111111", lw=1.0)
ax.hlines([l[2] for l in tree_links], [l[0] for l in tree_links], [l[1] for l in tree_links], color="#111111", lw=1.0)

bar_ax = px_axes(1166, 571, 1925, 725.6)
bar_ax.set_xlim(12, 1563)
bar_ax.set_ylim(2, 0)
bar_ax.set_xticks([])
bar_ax.set_yticks([])
for row, stripes, starts, colors in [(0, left_dyn_stripes, dyn_starts, dyn_colors),
                                     (1, left_mrg_stripes, mrg_starts, mrg_colors)]:
    stripe_w = (dyn_stripe_band[1] - dyn_stripe_band[0]) / len(stripes)
    stripe_left = dyn_stripe_band[0] + np.arange(len(stripes)) * stripe_w
    bar_ax.bar(stripe_left, 1, width=stripe_w, bottom=row, align="edge", lw=0, color=[r_color(c) for c in stripes])
    ends = starts[1:] + [1563]
    bar_ax.bar(starts, 1, width=np.array(ends) - np.array(starts), bottom=row, align="edge", lw=0,
               color=[r_color(c) for c in colors])
bar_ax.axhline(1, color="#111111", lw=1.4)
for side in bar_ax.spines:
    bar_ax.spines[side].set_linewidth(1.0)
    bar_ax.spines[side].set_color("#333333")
px_text(1157, 610, "Dynamic Module", ha="right", fontsize=12)
px_text(1157, 688, "Merged Module", ha="right", fontsize=12)

# ---------- C: module membership scatter plots ----------
col_lefts = [89.8, 405, 719.8, 1034.7]
row_tops = [975, 1289.6, 1604, 1919]
box_w, box_h = 253, 231.6
for i, name in enumerate(scatter_modules):
    left = col_lefts[i % 4]
    top = row_tops[i // 4]
    ax = px_axes(left, top, left + box_w, top + box_h)
    xs = [p[0] for p in scatter_points[i]]
    ys = [p[1] for p in scatter_points[i]]
    ax.scatter(xs, ys, s=15, color="black", linewidths=0, zorder=3)
    ax.plot(scatter_xlim[i], [line_left[i], line_right[i]], color=r_color(name), lw=1.0, ls=(0, (5, 2)), zorder=4)
    ax.set_xlim(scatter_xlim[i])
    ax.set_ylim(scatter_ylim[i])
    ax.set_xticks([float(t) for t in scatter_xticks[i]], scatter_xticks[i], fontsize=5.9)
    ax.set_yticks([float(t) for t in scatter_yticks[i]], scatter_yticks[i], fontsize=5.9, rotation=90, va="center")
    ax.tick_params(axis="x", length=3, width=0.7, pad=8)
    ax.tick_params(axis="y", length=3, width=0.7, pad=8)
    for spine in ax.spines.values():
        spine.set_linewidth(0.9)
        spine.set_color("#222222")
    px_text(left + box_w / 2 + 1, top - 14, scatter_titles[i], fontsize=6.5, fontweight="bold")
    px_text(left + box_w / 2 - 1, top + box_h + 49.5, f"Module Membership in {name} module", fontsize=6.3)
    px_text(left - 47, top + box_h / 2 - 1, "Gene significance for AF", rotation=90, fontsize=6.3)

# ---------- D: module-trait heatmap ----------
px_text(1716, 1002, "Module\u2212trait relationships", fontsize=21.1, fontweight="bold")
swatch_ax = px_axes(1458, 1060.5, 1501, 2016)
swatch_ax.set_xlim(0, 1)
swatch_ax.set_ylim(14, 0)
swatch_ax.bar(0.5, 1, width=1, bottom=np.arange(14), lw=0, color=[r_color(c) for c in trait_rows])
swatch_ax.set_xticks([])
swatch_ax.set_yticks(np.arange(14) + 0.5, trait_rows, fontsize=8.8, color="#222222")
swatch_ax.tick_params(length=0, pad=5)
for spine in swatch_ax.spines.values():
    spine.set_visible(False)

ax = px_axes(1508, 1061, 1849, 2015.6)
trait_values = np.column_stack([sr_corr, af_corr])
ax.pcolormesh(trait_values, cmap=stepped_bwr, vmin=-1, vmax=1)
ax.set_xlim(0, 2)
ax.set_ylim(14, 0)
ax.set_xticks([])
ax.set_yticks([])
for r in range(14):
    for c, values in enumerate([sr_corr, af_corr]):
        corr_text = f"{values[r]:g}".replace("-", "\u2212")
        ax.text(c + 0.5, r + 0.5, f"{corr_text}\n({p_labels[r]})", ha="center", va="center",
                fontsize=9.5, linespacing=1.25, color="#111111")
for spine in ax.spines.values():
    spine.set_linewidth(1.2)
    spine.set_color("#444444")
px_text(1587, 2040, trait_names[0], rotation=45, fontsize=9.5)
px_text(1757, 2040, trait_names[1], rotation=45, fontsize=9.5)

cax = px_axes(1862, 1118, 1882, 1958.5)
bar = fig.colorbar(ScalarMappable(Normalize(-1, 1), stepped_bwr), cax=cax)
bar.set_ticks([-1, -.5, 0, .5, 1], labels=["\u22121", "\u22120.5", "0", "0.5", "1"], fontsize=8.8)
cax.tick_params(length=10, width=1.0, pad=5)
bar.outline.set_linewidth(1.2)

fig.savefig("out.png", dpi=100)
